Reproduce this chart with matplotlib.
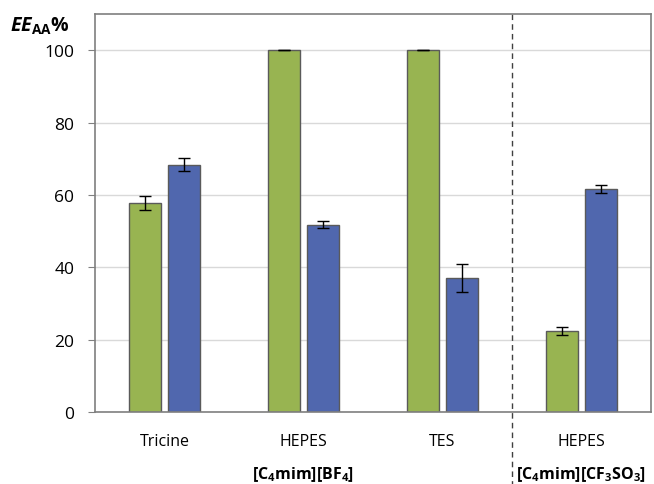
import numpy as np
import matplotlib
matplotlib.use("Agg")
import matplotlib.pyplot as plt

categories = ['Tricine', 'HEPES', 'TES', 'HEPES']
green_vals = [57.8, 100.0, 100.0, 22.3]
green_err = [2.0, 0.0, 0.0, 1.1]
blue_vals = [68.3, 51.8, 37.0, 61.6]
blue_err = [1.8, 1.0, 3.8, 1.0]
group_labels = [r'$\mathbf{[C_4mim][BF_4]}$', r'$\mathbf{[C_4mim][CF_3SO_3]}$']
group_pos = [1, 3]

plt.rcParams['font.family'] = ['Open Sans', 'DejaVu Sans']
plt.rcParams['mathtext.fontset'] = 'custom'
plt.rcParams['mathtext.rm'] = 'Open Sans'
plt.rcParams['mathtext.bf'] = 'Open Sans:bold'
plt.rcParams['mathtext.it'] = 'Open Sans:italic'
plt.rcParams['mathtext.bfit'] = 'Open Sans:italic:bold'

fig = plt.figure(figsize=(6.54, 4.85), dpi=100)
ax = fig.add_axes([0.1453, 0.1485, 0.8501, 0.8206])

x = np.arange(len(categories))
w = 0.225
off = 0.14
ax.bar(x - off, green_vals, w, color='#98B451', edgecolor='#5a5a5a', linewidth=1, zorder=2)
ax.bar(x + off, blue_vals, w, color='#5067AE', edgecolor='#5a5a5a', linewidth=1, zorder=2)
ax.errorbar(x - off, green_vals, yerr=green_err, fmt='none', ecolor='black', elinewidth=1, capsize=4, capthick=1, zorder=3)
ax.errorbar(x + off, blue_vals, yerr=blue_err, fmt='none', ecolor='black', elinewidth=1, capsize=4, capthick=1, zorder=3)

ax.set_xlim(-0.5, 3.5)
ax.set_ylim(0, 110)
ax.set_yticks(np.arange(0, 101, 20))
ax.yaxis.grid(True, color='#d9d9d9', linewidth=1, zorder=0)
ax.set_axisbelow(True)
ax.set_xticks(x)
ax.set_xticklabels(categories, fontsize=11.5)
ax.tick_params(axis='x', length=0, pad=15)
ax.tick_params(axis='y', labelsize=12.5, length=5, color='#808080', direction='out', pad=10)
for s in ax.spines.values():
    s.set_color('#7f7f7f')
    s.set_linewidth(1.2)

for p, lab in zip(group_pos, group_labels):
    ax.text(p, -17.0, lab, ha='center', va='center', fontsize=11.5, transform=ax.transData)

ax.plot([2.5, 2.5], [110, -21], transform=ax.transData, color='#404040', linestyle=(0, (4, 3)),
        linewidth=1, clip_on=False, zorder=1)

fig.text(0.015, 0.947, r'$\mathbfit{EE}_{\mathbf{AA}}\mathbf{\%}$', fontsize=14, ha='left', va='center')

fig.savefig('out.png', dpi=100)
